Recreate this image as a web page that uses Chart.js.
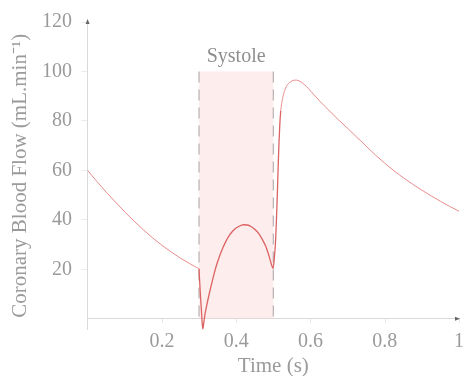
<!DOCTYPE html>
<html><head><meta charset="utf-8">
<script src="https://cdn.jsdelivr.net/npm/chart.js@4/dist/chart.umd.min.js"></script>
<style>html,body{margin:0;padding:0;background:#fff}#wrap{width:464px;height:376px;position:relative}</style>
</head><body><div id="wrap"><canvas id="c"></canvas></div>
<script>
const timeValues = [0,0.025,0.05,0.075,0.1,0.125,0.15,0.175,0.2,0.225,0.25,0.275,0.29,0.297,0.3,
  0.301,0.304,0.307,0.31,0.313,0.316,0.32,0.328,0.337,0.346,0.355,0.364,0.373,0.382,0.395,0.408,0.42,0.43,0.44,0.45,0.46,0.47,0.48,0.488,0.494,0.4995,
  0.503,0.506,0.5085,0.511,0.513,0.515,0.5175,0.52,0.525,0.53,0.536,0.543,0.552,0.562,0.572,0.582,0.595,0.61,0.625,0.65,0.675,0.7,0.725,0.75,0.775,0.8,0.825,0.85,0.875,0.9,0.925,0.95,0.975,1];
const flowValues = [60,55.5,51.2,47.2,43.2,39.5,36,32.7,29.7,27,24.5,22.3,21,20.5,20.2,
  17,9,2,-4.2,-1.5,1.8,4.8,10.4,16,21.1,25.2,28.6,31.5,33.8,36.1,37.4,38,37.9,37.3,36.2,34.6,32.2,29.2,25.6,22.5,20.4,
  25,31,40,51,61,70,78.5,84,89,92,94.2,95.4,96.3,96.5,96,94.9,93,90.5,88,84.2,80.5,77,73.4,69.8,66.2,62.9,59.8,57,54.4,52,49.7,47.5,45.4,43.5];
const xTickValues = [0.2,0.4,0.6,0.8,1];
const yTickValues = [20,40,60,80,100,120];
const systoleStart = 0.3, systoleEnd = 0.5, systoleTop = 100;
const systoleLabel = 'Systole';
const xTitle = 'Time (s)';
const yTitle = 'Coronary Blood Flow (mL.min\u207B\u00B9)';

const FONT = "'Liberation Serif', 'Times New Roman', serif";
const TEXT = '#9a9a9a';

const points = timeValues.map((t,i)=>({x:t,y:flowValues[i]}));

const systolePlugin = {
  id:'systole',
  beforeDatasetsDraw(chart){
    const {ctx, scales:{x,y}} = chart;
    const x1 = x.getPixelForValue(systoleStart), x2 = x.getPixelForValue(systoleEnd);
    const y0 = y.getPixelForValue(0), yt = y.getPixelForValue(systoleTop);
    ctx.save();
    ctx.fillStyle = 'rgba(248,200,200,0.33)';
    ctx.fillRect(x1, yt, x2-x1, y0-yt);
    ctx.strokeStyle = '#b8b0b0';
    ctx.lineWidth = 1.2;
    ctx.setLineDash([11,7]);
    [x1,x2].forEach(px=>{
      ctx.beginPath(); ctx.moveTo(px, yt); ctx.lineTo(px, y0); ctx.stroke();
    });
    ctx.setLineDash([]);
    ctx.strokeStyle = '#e6e6e6'; ctx.lineWidth = 1;
    x.ticks.forEach(t=>{
      const px = Math.round(x.getPixelForValue(t.value))+0.5;
      ctx.beginPath(); ctx.moveTo(px, y0); ctx.lineTo(px, y0+4); ctx.stroke();
    });
    ctx.fillStyle = '#8e8e8e';
    ctx.font = "20px " + FONT;
    ctx.textAlign = 'center'; ctx.textBaseline = 'middle';
    ctx.fillText(systoleLabel, x.getPixelForValue((systoleStart+systoleEnd)/2), yt-15);
    ctx.restore();
  },
  afterDraw(chart){
    const {ctx, scales:{x,y}} = chart;
    const ax = x.getPixelForValue(0), ay = y.getPixelForValue(0);
    const top = y.getPixelForValue(120), right = x.getPixelForValue(1);
    ctx.save();
    ctx.fillStyle = '#666';
    ctx.beginPath(); ctx.moveTo(ax, top-3); ctx.lineTo(ax-2, top+2); ctx.lineTo(ax+2, top+2); ctx.closePath(); ctx.fill();
    ctx.beginPath(); ctx.moveTo(right+1, ay); ctx.lineTo(right-4, ay-2); ctx.lineTo(right-4, ay+2); ctx.closePath(); ctx.fill();
    ctx.restore();
  }
};

const inSystole = c => c.p0.parsed.x >= systoleStart && c.p1.parsed.x <= systoleEnd + 0.02;

new Chart(document.getElementById('c'), {
  type:'line',
  data:{datasets:[{
    data:points,
    borderColor:'#e88c8c',
    borderWidth:1,
    pointRadius:0,
    fill:false,
    cubicInterpolationMode:'monotone',
    segment:{borderColor:c=> inSystole(c) ? '#dc6262' : undefined,
             borderWidth:c=> inSystole(c) ? 1.3 : undefined}
  }]},
  options:{
    responsive:true, maintainAspectRatio:false, animation:false,
    layout:{padding:{left:3.4,top:22,right:3,bottom:46.4}},
    plugins:{legend:{display:false},tooltip:{enabled:false}},
    scales:{
      x:{
        type:'linear', min:0, max:1, position:{y:0},
        afterBuildTicks:s=>{s.ticks = xTickValues.map(v=>({value:v}));},
        ticks:{color:TEXT, font:{family:FONT,size:20}, padding:0, maxRotation:0,
          callback:v=>String(v)},
        grid:{drawOnChartArea:false, drawTicks:true, tickLength:11, tickColor:'rgba(0,0,0,0)'},
        border:{display:true, color:'#d9d9d9', width:1},
        title:{display:true, text:xTitle, color:TEXT, font:{family:FONT,size:21}, padding:{top:0,bottom:4}}
      },
      y:{
        type:'linear', min:-4.4, max:120, position:'left',
        afterBuildTicks:s=>{s.ticks = yTickValues.map(v=>({value:v}));},
        ticks:{color:TEXT, font:{family:FONT,size:20}, padding:9.5},
        grid:{drawOnChartArea:false, drawTicks:true, tickLength:6, color:'#ececec'},
        border:{display:true, color:'#d9d9d9', width:1},
        title:{display:true, text:yTitle, color:TEXT, font:{family:FONT,size:21}, padding:{top:4,bottom:0}}
      }
    }
  },
  plugins:[systolePlugin]
});
</script>
</body></html>
